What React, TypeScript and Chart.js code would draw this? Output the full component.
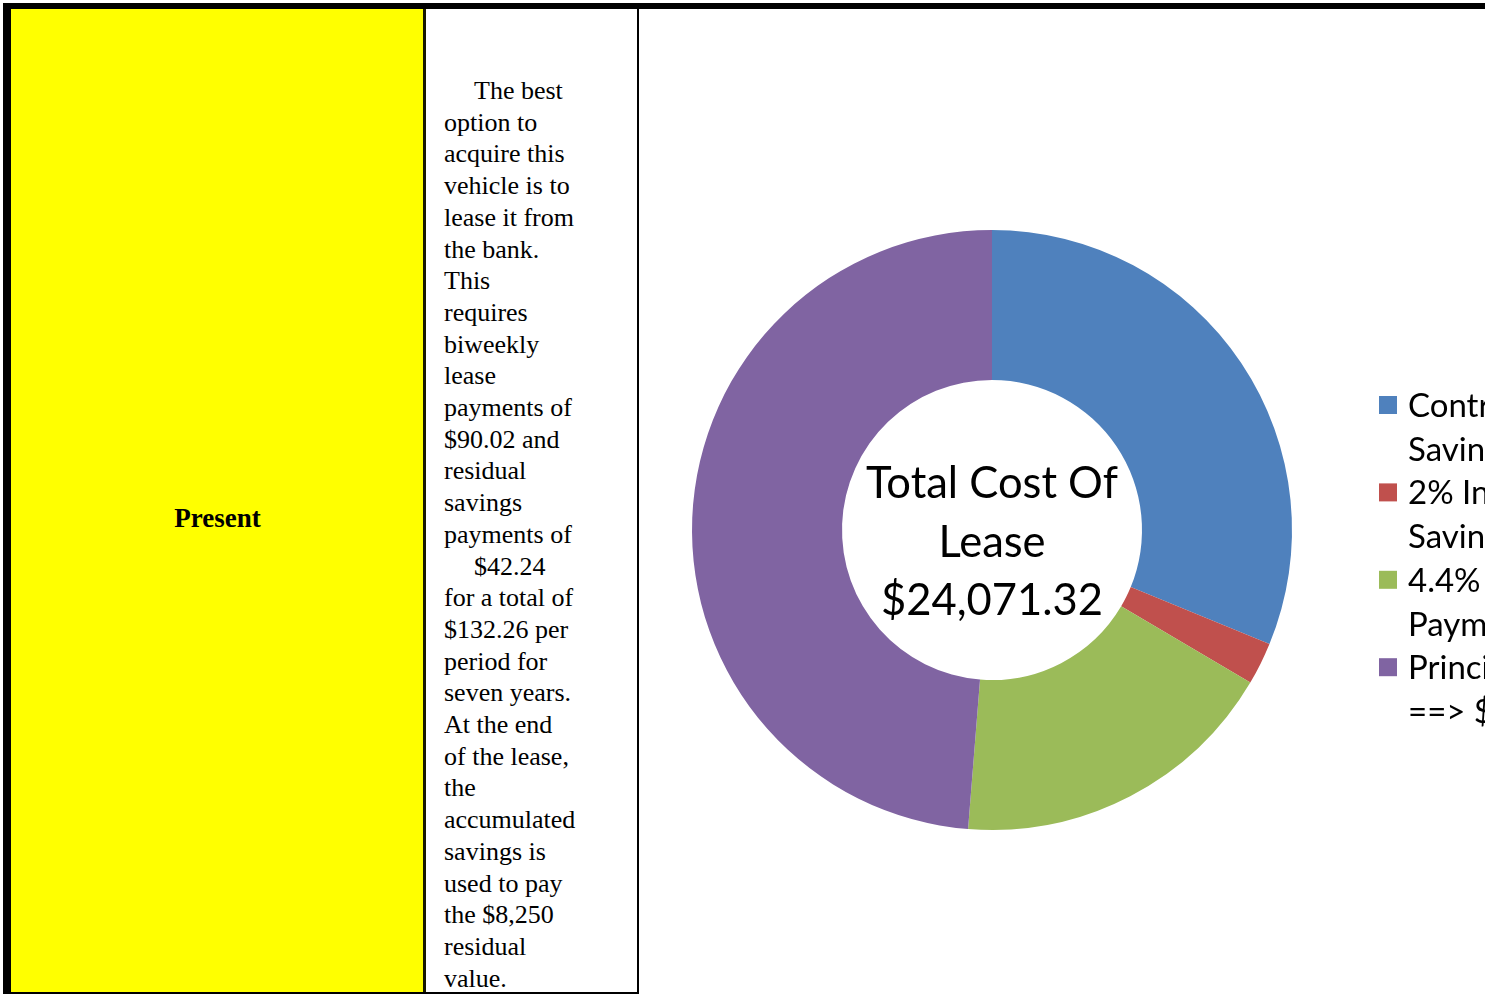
import React, { useEffect, useRef } from "react";
import { Chart, registerables } from "chart.js";

Chart.register(...registerables);

// ---- data ----
const categories: string[][] = [
  ["Contributions to", "Savings"],
  ["2% Interest on", "Savings"],
  ["4.4% Interest on Lease", "Payments"],
  ["Principal", "==> $12,003.64"],
];
const values: number[] = [7687.68, 562.32, 4380.0, 12003.64];
const colors: string[] = ["#4F81BD", "#C0504D", "#9BBB59", "#8064A2"];
const centerLines: string[] = ["Total Cost Of", "Lease", "$24,071.32"];
const rowLabel = "Present";
const paragraphLines: { text: string; indent: boolean }[] = [
  { text: "The best", indent: true },
  { text: "option to", indent: false },
  { text: "acquire this", indent: false },
  { text: "vehicle is to", indent: false },
  { text: "lease it from", indent: false },
  { text: "the bank.", indent: false },
  { text: "This", indent: false },
  { text: "requires", indent: false },
  { text: "biweekly", indent: false },
  { text: "lease", indent: false },
  { text: "payments of", indent: false },
  { text: "$90.02 and", indent: false },
  { text: "residual", indent: false },
  { text: "savings", indent: false },
  { text: "payments of", indent: false },
  { text: "$42.24", indent: true },
  { text: "for a total of", indent: false },
  { text: "$132.26 per", indent: false },
  { text: "period for", indent: false },
  { text: "seven years.", indent: false },
  { text: "At the end", indent: false },
  { text: "of the lease,", indent: false },
  { text: "the", indent: false },
  { text: "accumulated", indent: false },
  { text: "savings is", indent: false },
  { text: "used to pay", indent: false },
  { text: "the $8,250", indent: false },
  { text: "residual", indent: false },
  { text: "value.", indent: false },
];

const overlayPlugin = {
  id: "overlay",
  afterDraw(chart: any) {
    const ctx: CanvasRenderingContext2D = chart.ctx;
    const arc = chart.getDatasetMeta(0).data[0];
    if (!arc) return;
    const cx = arc.x;
    const cy = arc.y;
    ctx.save();
    ctx.fillStyle = "#000";
    ctx.textAlign = "center";
    ctx.textBaseline = "alphabetic";
    ctx.font = "43.5px Lato";
    centerLines.forEach((t, i) => ctx.fillText(t, cx, cy - 32 + i * 58.5));

    // legend
    const labels: string[][] = chart.data.labels;
    const bg: string[] = chart.data.datasets[0].backgroundColor;
    ctx.textAlign = "left";
    ctx.font = "33px Lato";
    const boxX = 739;
    const textX = 768;
    const top0 = 386;
    const lineH = 43.7;
    labels.forEach((lines, i) => {
      const y0 = top0 + i * lineH * 2;
      ctx.fillStyle = bg[i];
      ctx.fillRect(boxX, y0, 18, 18);
      ctx.fillStyle = "#000";
      lines.forEach((ln, j) => ctx.fillText(ln, textX, y0 + 21 + j * lineH));
    });
    ctx.restore();
  },
};

function DonutChart() {
  const ref = useRef<HTMLCanvasElement | null>(null);
  useEffect(() => {
    if (!ref.current) return;
    const chart = new Chart(ref.current, {
      type: "doughnut",
      data: {
        labels: categories as any,
        datasets: [
          {
            data: values,
            backgroundColor: colors,
            borderWidth: 0,
            hoverOffset: 0,
            offset: 0,
          },
        ],
      },
      options: {
        responsive: false,
        animation: false,
        devicePixelRatio: 1,
        radius: 300,
        cutout: 150,
        layout: { padding: { left: 52, right: 348, top: 220, bottom: 162 } },
        plugins: {
          legend: { display: false },
          tooltip: { enabled: false },
        },
      } as any,
      plugins: [overlayPlugin],
    });
    return () => chart.destroy();
  }, []);
  return (
    <canvas
      ref={ref}
      width={1000}
      height={982}
      style={{ position: "absolute", left: 640, top: 10, width: 1000, height: 982 }}
    />
  );
}

export default function App() {
  return (
    <div
      style={{
        position: "fixed",
        left: 0,
        top: 0,
        width: 1485,
        height: 994,
        overflow: "hidden",
        background: "#fff",
      }}
    >
      {/* yellow cell */}
      <div style={{ position: "absolute", left: 11, top: 9, width: 413, height: 990, background: "#FFFF00" }} />
      <div
        style={{
          position: "absolute",
          left: 11,
          top: 502,
          width: 413,
          textAlign: "center",
          fontFamily: "'Liberation Serif', serif",
          fontWeight: "bold",
          fontSize: 27,
          lineHeight: "32px",
        }}
      >
        {rowLabel}
      </div>
      {/* text cell */}
      <div
        style={{
          position: "absolute",
          left: 444,
          top: 75,
          fontFamily: "'Liberation Serif', serif",
          fontSize: 26,
          lineHeight: "31.7px",
          color: "#000",
        }}
      >
        {paragraphLines.map((l, i) => (
          <div key={i} style={{ whiteSpace: "pre", paddingLeft: l.indent ? 30 : 0 }}>
            {l.text}
          </div>
        ))}
      </div>
      <DonutChart />
      {/* borders */}
      <div style={{ position: "absolute", left: 3, top: 3, width: 1482, height: 6, background: "#000" }} />
      <div style={{ position: "absolute", left: 3, top: 3, width: 8, height: 991, background: "#000" }} />
      <div style={{ position: "absolute", left: 423, top: 9, width: 3, height: 985, background: "#1a1a00" }} />
      <div style={{ position: "absolute", left: 637, top: 9, width: 2, height: 985, background: "#000" }} />
      <div style={{ position: "absolute", left: 3, top: 992, width: 636, height: 2, background: "#000" }} />
    </div>
  );
}
